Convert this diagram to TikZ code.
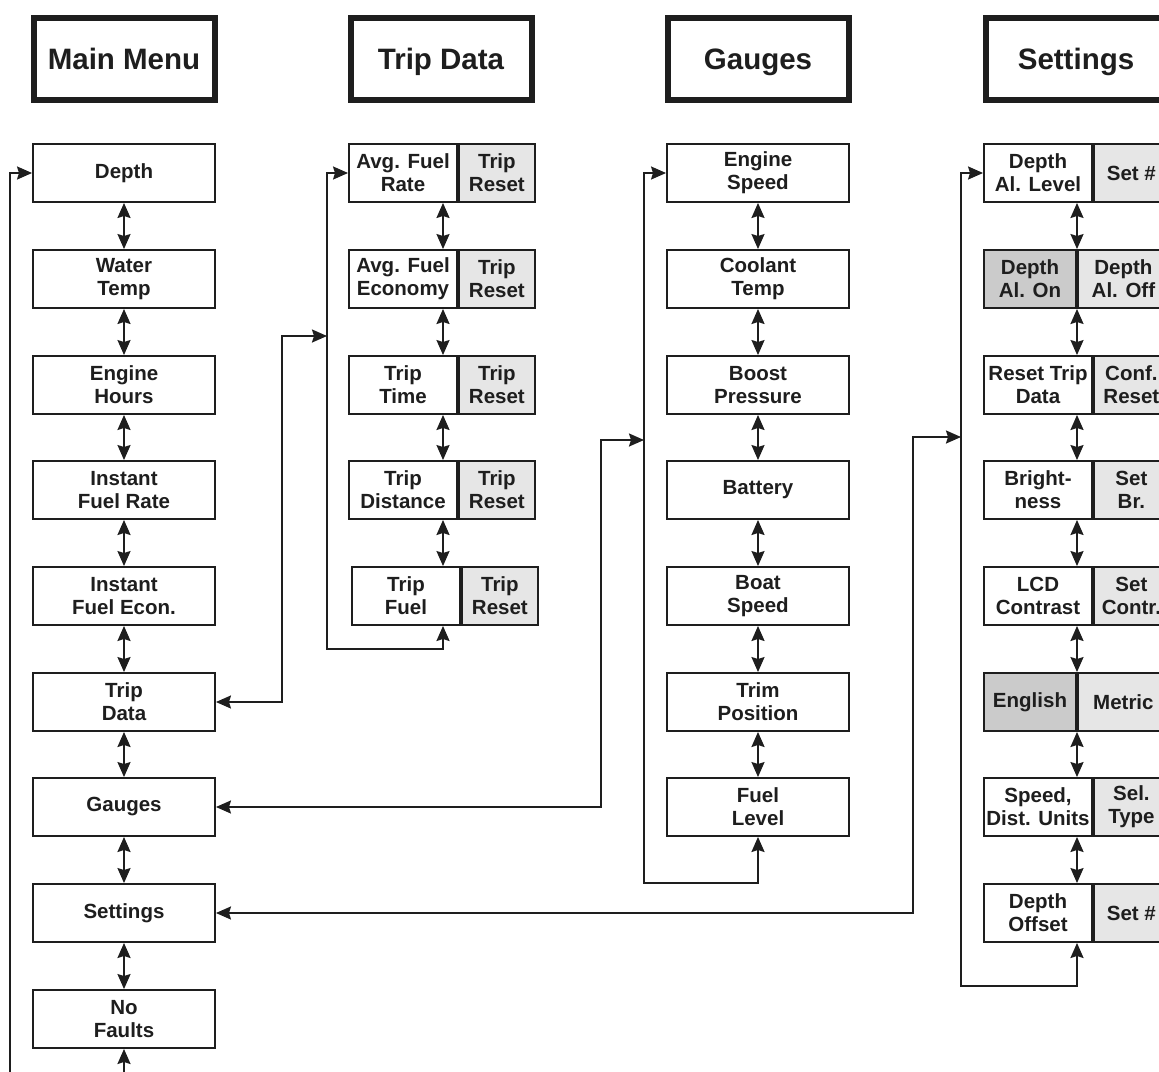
\documentclass[tikz,border=0pt]{standalone}
\usepackage{fontspec}
\setmainfont{Liberation Sans}
\usetikzlibrary{arrows.meta}
\definecolor{ink}{HTML}{1E1E1E}
\definecolor{lightc}{HTML}{E6E6E6}
\definecolor{darkc}{HTML}{CBCBCB}
\tikzset{
  hdr/.style={draw=ink, line width=6pt, minimum width=181pt, minimum height=82pt, inner sep=0pt,
    text height=21pt, text depth=0pt,
    font=\fontsize{29.5}{33}\selectfont\bfseries, text=ink},
  box/.style={draw=ink, line width=1.9pt, minimum height=58pt, inner sep=0pt, align=center,
    font=\fontsize{20.5}{23}\selectfont\bfseries, text=ink},
  mbox/.style={box, minimum width=182pt},
  cellw/.style={box, minimum width=108pt, fill=white},
  cellr/.style={box, minimum width=76pt, fill=lightc},
  celld/.style={box, minimum width=92pt, fill=darkc},
  conn/.style={draw=ink, line width=1.9pt, {Stealth[length=15pt,width=13pt,inset=2pt]}-{Stealth[length=15pt,width=13pt,inset=2pt]}},
}
\begin{document}
\begin{tikzpicture}[x=1pt,y=-1pt]
\useasboundingbox (0,0) rectangle (1159,1071);
\clip (0,0) rectangle (1159,1071);
\fill[white] (0,0) rectangle (1159,1071);

% headers
\node[hdr] (hmain) at (124,59) {Main Menu};
\node[hdr] (htrip) at (441,59) {Trip Data};
\node[hdr] (hgau) at (758,59) {Gauges};
\node[hdr] (hset) at (1076,59) {Settings};

% main column
\node[mbox] (m1) at (124,173) {Depth};
\node[mbox] (m2) at (124,279) {Water\\Temp};
\node[mbox] (m3) at (124,385) {Engine\\Hours};
\node[mbox] (m4) at (124,490) {Instant\\Fuel Rate};
\node[mbox] (m5) at (124,596) {Instant\\Fuel Econ.};
\node[mbox] (m6) at (124,702) {Trip\\Data};
\node[mbox] (m7) at (124,807) {Gauges};
\node[mbox] (m8) at (124,913) {Settings};
\node[mbox] (m9) at (124,1019) {No\\Faults};
\foreach \a/\b in {m1/m2,m2/m3,m3/m4,m4/m5,m5/m6,m6/m7,m7/m8,m8/m9}
  \draw[conn] (\a.south) -- (\b.north);

% trip column
\node[cellw] (t1) at (403,173) {Avg. Fuel\\Rate};
\node[cellr, anchor=west] (t1r) at (t1.east) {Trip\\Reset};
\node[cellw] (t2) at (403,279) {Avg. Fuel\\Economy};
\node[cellr, anchor=west] (t2r) at (t2.east) {Trip\\Reset};
\node[cellw] (t3) at (403,385) {Trip\\Time};
\node[cellr, anchor=west] (t3r) at (t3.east) {Trip\\Reset};
\node[cellw] (t4) at (403,490) {Trip\\Distance};
\node[cellr, anchor=west] (t4r) at (t4.east) {Trip\\Reset};
\node[cellw] (t5) at (406,596) {Trip\\Fuel};
\node[cellr, anchor=west] (t5r) at (t5.east) {Trip\\Reset};
\coordinate (tax) at (443,0);
\foreach \a/\b in {t1/t2,t2/t3,t3/t4,t4/t5}
  \draw[conn] (\a.south -| tax) -- (\b.north -| tax);

% gauges column
\node[mbox] (g1) at (758,173) {Engine\\Speed};
\node[mbox] (g2) at (758,279) {Coolant\\Temp};
\node[mbox] (g3) at (758,385) {Boost\\Pressure};
\node[mbox] (g4) at (758,490) {Battery};
\node[mbox] (g5) at (758,596) {Boat\\Speed};
\node[mbox] (g6) at (758,702) {Trim\\Position};
\node[mbox] (g7) at (758,807) {Fuel\\Level};
\foreach \a/\b in {g1/g2,g2/g3,g3/g4,g4/g5,g5/g6,g6/g7}
  \draw[conn] (\a.south) -- (\b.north);

% settings column
\node[cellw] (s1) at (1038,173) {Depth\\Al. Level};
\node[cellr, minimum width=75pt, anchor=west] (s1r) at (s1.east) {Set \#};
\node[celld] (s2) at (1030,279) {Depth\\Al. On};
\node[cellr, minimum width=91pt, anchor=west] (s2r) at (s2.east) {Depth\\Al. Off};
\node[cellw] (s3) at (1038,385) {Reset Trip\\Data};
\node[cellr, minimum width=75pt, anchor=west] (s3r) at (s3.east) {Conf.\\Reset};
\node[cellw] (s4) at (1038,490) {Bright-\\ness};
\node[cellr, minimum width=75pt, anchor=west] (s4r) at (s4.east) {Set\\Br.};
\node[cellw] (s5) at (1038,596) {LCD\\Contrast};
\node[cellr, minimum width=75pt, anchor=west] (s5r) at (s5.east) {Set\\Contr.};
\node[celld] (s6) at (1030,702) {English};
\node[cellr, minimum width=91pt, anchor=west] (s6r) at (s6.east) {Metric};
\node[cellw] (s7) at (1038,807) {Speed,\\Dist. Units};
\node[cellr, minimum width=75pt, anchor=west] (s7r) at (s7.east) {Sel.\\Type};
\node[cellw] (s8) at (1038,913) {Depth\\Offset};
\node[cellr, minimum width=75pt, anchor=west] (s8r) at (s8.east) {Set \#};
\coordinate (sax) at (1077,0);
\foreach \a/\b in {s1/s2,s2/s3,s3/s4,s4/s5,s5/s6,s6/s7,s7/s8}
  \draw[conn] (\a.south -| sax) -- (\b.north -| sax);

% loops
\coordinate (mloop) at (10,1100);
\draw[conn] (m9.south) |- (mloop) |- (m1.west);
\coordinate (tloop) at (327,649);
\draw[conn] (t5.south -| tax) |- (tloop) |- (t1.west);
\coordinate (gloop) at (644,883);
\draw[conn] (g7.south) |- (gloop) |- (g1.west);
\coordinate (sloop) at (961,986);
\draw[conn] (s8.south -| sax) |- (sloop) |- (s1.west);

% joins
\coordinate (tj) at (282,336);
\draw[conn] (m6.east) -| (tj) -- (tloop |- tj);
\coordinate (gj) at (601,440);
\draw[conn] (m7.east) -| (gj) -- (gloop |- gj);
\coordinate (sj) at (913,437);
\draw[conn] (m8.east) -| (sj) -- (sloop |- sj);
\end{tikzpicture}
\end{document}
